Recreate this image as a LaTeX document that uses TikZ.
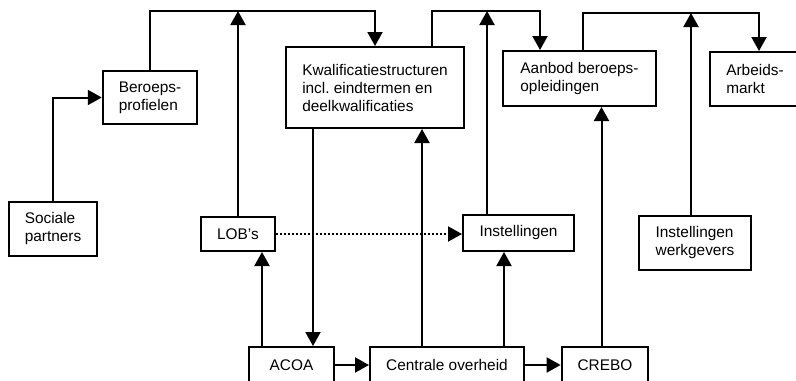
\documentclass[tikz,border=0pt]{standalone}
\usepackage{fontspec}
\setmainfont{Liberation Sans}
\usetikzlibrary{calc}
\usetikzlibrary{arrows.meta}

\begin{document}
\begin{tikzpicture}[x=.5pt,y=-.5pt,font=\fontsize{7.7}{9}\selectfont,
 box/.style={draw, line width=1pt, inner xsep=8pt, inner ysep=0pt, align=left},
 link/.style={line width=1pt, -{Triangle[width=7.5pt,length=7pt]}}]
\clip (0,0) rectangle (796,380);
\coordinate (top) at (0,11);
\coordinate (toptwo) at (0,13);
\node[box, minimum width=44pt, minimum height=27pt] (sociale) at (53,229) {Sociale\\partners};
\node[box, minimum width=47pt, minimum height=26.5pt] (beroeps) at (150,97.5) {Beroeps-\\profielen};
\node[box, minimum width=37pt, minimum height=17pt] (lob) at (238,234) {LOB's};
\node[box, minimum width=89pt, minimum height=40.5pt] (kwal) at (375,87.5) {Kwalificatiestructuren\\incl.\ eindtermen en\\deelkwalificaties};
\node[box, minimum width=76.5pt, minimum height=27.5pt] (aanbod) at (579.5,78.5) {Aanbod beroeps-\\opleidingen};
\node[box, minimum width=44pt, minimum height=27pt] (arbeid) at (755,79) {Arbeids-\\markt};
\node[box, minimum width=55.5pt, minimum height=18pt] (instel) at (518.5,233) {Instellingen};
\node[box, minimum width=56pt, minimum height=27pt] (werkg) at (695,243) {Instellingen\\werkgevers};
\node[box, minimum width=42.5pt, minimum height=18pt] (acoa) at (291.5,365) {ACOA};
\node[box, minimum width=77pt, minimum height=18pt] (centrale) at (447,365) {Centrale overheid};
\node[box, minimum width=43pt, minimum height=18pt] (crebo) at (605,365) {CREBO};

\draw[link] (sociale.north) |- (beroeps.west);
\draw[link] (beroeps.north) |- (kwal.north |- top) -- (kwal.north);
\draw[link] (lob.north) -- (lob.north |- top);
\path ($(aanbod.north)+(-39.5,0)$) coordinate (ka);
\draw[link] ($(kwal.north)+(57,0)$) |- (ka |- top) -- (ka);
\draw[link] ($(instel.north)+(-31.5,0)$) coordinate (it) -- (it |- top);
\path ($(arbeid.north)+(4,0)$) coordinate (aa);
\draw[link] ($(aanbod.north)+(3.5,0)$) |- (aa |- toptwo) -- (aa);
\draw[link] ($(werkg.north)+(-4,0)$) coordinate (wt) -- (wt |- toptwo);
\draw[link] ($(kwal.south)+(-62,0)$) coordinate (kb) -- (kb |- acoa.north);
\draw[link] ($(acoa.north)+(-29.5,0)$) coordinate (al) -- (al |- lob.south);
\draw[link] ($(centrale.north)+(-25,0)$) coordinate (ck) -- (ck |- kwal.south);
\draw[link] ($(centrale.north)+(57,0)$) coordinate (ci) -- (ci |- instel.south);
\draw[link] ($(crebo.north)+(-3.5,0)$) coordinate (cr) -- (cr |- aanbod.south);
\draw[link, densely dotted] (lob.east) -- (lob.east -| instel.west);
\draw[link] (acoa.east) -- (centrale.west);
\draw[link] (centrale.east) -- (crebo.west);
\end{tikzpicture}
\end{document}
